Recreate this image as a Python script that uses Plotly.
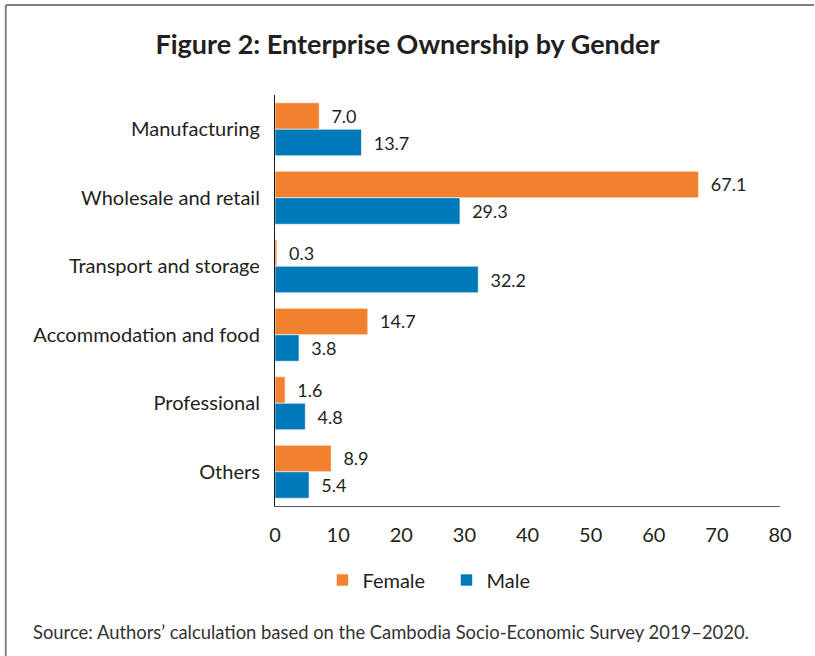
import plotly.graph_objects as go

# Enterprise ownership shares (%) by sector and gender
sectors = [
    "Manufacturing",
    "Wholesale and retail",
    "Transport and storage",
    "Accommodation and food",
    "Professional",
    "Others",
]
female = [7.0, 67.1, 0.3, 14.7, 1.6, 8.9]
male = [13.7, 29.3, 32.2, 3.8, 4.8, 5.4]
x_ticks = [0, 10, 20, 30, 40, 50, 60, 70, 80]

ORANGE = "#F1812E"
BLUE = "#0079B8"
INK = "#231F20"
FONT = "Lato"

W, H = 815, 656
L, R, T, B = 274.5, 35, 95, 150
pw, ph = W - L - R, H - T - B


def px_x(px):
    return (px - L) / pw


def px_y(py):
    return (H - B - py) / ph


fig = go.Figure()
for name, vals, color in [("Female", female, ORANGE), ("Male", male, BLUE)]:
    fig.add_trace(go.Bar(
        name=name,
        y=sectors,
        x=vals,
        orientation="h",
        marker=dict(color=color, line=dict(color="white", width=0.6)),
        text=vals,
        texttemplate="\u00a0\u00a0%{x:.1f}",
        textposition="outside",
        textfont=dict(family=FONT, size=18, color=INK),
        cliponaxis=False,
    ))

fig.update_layout(
    width=W,
    height=H,
    margin=dict(l=L, r=R, t=T, b=B),
    paper_bgcolor="white",
    plot_bgcolor="white",
    barmode="group",
    bargap=0.226,
    bargroupgap=0,
    font=dict(family=FONT, color=INK),
    title=dict(
        text="<b>Figure 2: Enterprise Ownership by Gender</b>",
        font=dict(family=FONT, size=27, color=INK),
        x=0.5, xref="container", xanchor="center",
        y=1 - 45 / H, yref="container", yanchor="middle",
    ),
    xaxis=dict(
        range=[0, 80],
        tickvals=x_ticks,
        ticktext=[str(v) for v in x_ticks],
        showgrid=False,
        zeroline=False,
        showline=True,
        linecolor="#5a5a5a",
        linewidth=1.2,
        ticks="",
        ticklabelstandoff=11,
        tickfont=dict(family=FONT, size=20, color=INK),
        fixedrange=True,
    ),
    yaxis=dict(
        autorange="reversed",
        showgrid=False,
        zeroline=False,
        showline=True,
        linecolor="#1a1a1a",
        linewidth=1.2,
        ticks="",
        ticklabelstandoff=10,
        tickfont=dict(family=FONT, size=20, color=INK),
        fixedrange=True,
    ),
    showlegend=True,
    legend=dict(
        orientation="h",
        x=px_x(322), xanchor="left",
        y=px_y(580), yanchor="middle",
        font=dict(family=FONT, size=20, color=INK),
        entrywidth=79,
        bgcolor="rgba(0,0,0,0)",
        traceorder="normal",
    ),
    annotations=[dict(
        text="Source: Authors\u2019 calculation based on the Cambodia Socio-Economic Survey 2019\u20132020.",
        xref="paper", yref="paper",
        x=px_x(30), y=px_y(632),
        xanchor="left", yanchor="middle",
        showarrow=False,
        font=dict(family=FONT, size=18.4, color="#333333"),
    )],
    shapes=[
        dict(type="line", xref="paper", yref="paper",
             x0=px_x(5), x1=px_x(814), y0=px_y(5), y1=px_y(5),
             line=dict(color="#808080", width=2)),
        dict(type="line", xref="paper", yref="paper",
             x0=px_x(5), x1=px_x(5), y0=px_y(5), y1=px_y(656),
             line=dict(color="#808080", width=2)),
    ],
)

fig.write_html("out.html")
